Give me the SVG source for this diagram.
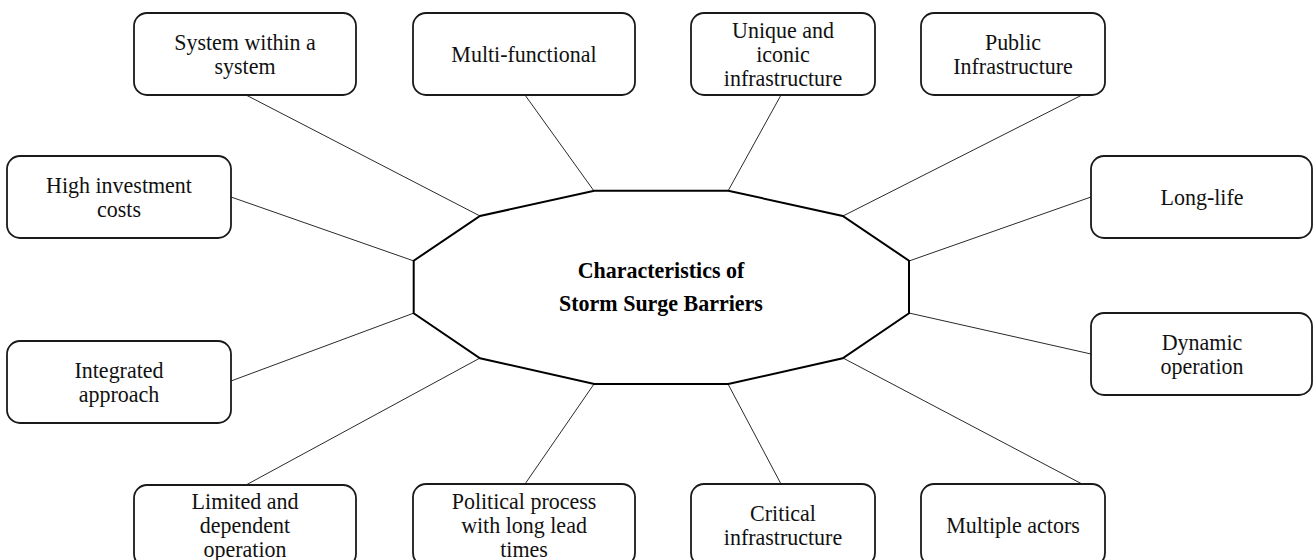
<svg xmlns="http://www.w3.org/2000/svg" width="1313" height="560" viewBox="0 0 1313 560">
  <style>
    .box { fill: #ffffff; stroke: #1a1a1a; stroke-width: 1.8; }
    .hub { fill: #ffffff; stroke: #000000; stroke-width: 2; stroke-linejoin: miter; }
    .link { stroke: #2a2a2a; stroke-width: 1; fill: none; }
    .lbl { font-family: "Liberation Serif", "Times New Roman", serif; font-size: 22px; fill: #111111; text-anchor: middle; }
    .title { font-family: "Liberation Serif", "Times New Roman", serif; font-size: 22px; font-weight: bold; fill: #000000; text-anchor: middle; }
  </style>
  <rect width="1313" height="560" fill="#ffffff"/>

  <!-- connectors between the hub and the surrounding boxes -->
  <g id="connectors">
    <line class="link" x1="246" y1="95" x2="480" y2="216"/>
    <line class="link" x1="525" y1="95" x2="594" y2="191"/>
    <line class="link" x1="781" y1="95" x2="728" y2="191"/>
    <line class="link" x1="1082" y1="95" x2="843" y2="216"/>
    <line class="link" x1="231" y1="197" x2="414" y2="261"/>
    <line class="link" x1="1091" y1="197" x2="909" y2="261"/>
    <line class="link" x1="231" y1="381" x2="414" y2="313"/>
    <line class="link" x1="1091" y1="354" x2="909" y2="313"/>
    <line class="link" x1="246" y1="485" x2="480" y2="358"/>
    <line class="link" x1="525" y1="484" x2="594" y2="384"/>
    <line class="link" x1="781" y1="484" x2="728" y2="384"/>
    <line class="link" x1="1082" y1="484" x2="843" y2="358"/>
  </g>

  <!-- central twelve-sided hub; type is slightly tall (scaled 1.08 vertically) -->
  <g id="hub">
    <polygon class="hub" points="594.3,190.7 728.3,190.7 842.7,216 909,260.7 909,313.3 842.7,358.3 728.3,384 594.3,384 480,358.3 413.7,313.3 413.7,260.7 480,216"/>
    <text class="title" transform="translate(661,277.5) scale(1,1.08)">Characteristics of</text>
    <text class="title" transform="translate(661,310.5) scale(1,1.08)">Storm Surge Barriers</text>
  </g>

  <!-- top row -->
  <g id="system-within-a-system">
    <rect class="box" x="134" y="13" width="222" height="82" rx="13"/>
    <text class="lbl" transform="translate(245,50) scale(1,1.08)">System within a</text>
    <text class="lbl" transform="translate(245,74) scale(1,1.08)">system</text>
  </g>
  <g id="multi-functional">
    <rect class="box" x="413" y="13" width="222" height="82" rx="13"/>
    <text class="lbl" transform="translate(524,62) scale(1,1.08)">Multi-functional</text>
  </g>
  <g id="unique-iconic">
    <rect class="box" x="691" y="13" width="184" height="82" rx="13"/>
    <text class="lbl" transform="translate(783,37.5) scale(1,1.08)">Unique and</text>
    <text class="lbl" transform="translate(783,61.5) scale(1,1.08)">iconic</text>
    <text class="lbl" transform="translate(783,85.5) scale(1,1.08)">infrastructure</text>
  </g>
  <g id="public-infrastructure">
    <rect class="box" x="921" y="13" width="184" height="82" rx="13"/>
    <text class="lbl" transform="translate(1013,50) scale(1,1.08)">Public</text>
    <text class="lbl" transform="translate(1013,74) scale(1,1.08)">Infrastructure</text>
  </g>

  <!-- side columns -->
  <g id="high-investment-costs">
    <rect class="box" x="7" y="156" width="224" height="82" rx="13"/>
    <text class="lbl" transform="translate(119,193) scale(1,1.08)">High investment</text>
    <text class="lbl" transform="translate(119,217) scale(1,1.08)">costs</text>
  </g>
  <g id="integrated-approach">
    <rect class="box" x="7" y="341" width="224" height="82" rx="13"/>
    <text class="lbl" transform="translate(119,378) scale(1,1.08)">Integrated</text>
    <text class="lbl" transform="translate(119,402) scale(1,1.08)">approach</text>
  </g>
  <g id="long-life">
    <rect class="box" x="1091" y="156" width="221" height="82" rx="13"/>
    <text class="lbl" transform="translate(1202,205) scale(1,1.08)">Long-life</text>
  </g>
  <g id="dynamic-operation">
    <rect class="box" x="1091" y="313" width="221" height="82" rx="13"/>
    <text class="lbl" transform="translate(1202,350) scale(1,1.08)">Dynamic</text>
    <text class="lbl" transform="translate(1202,374) scale(1,1.08)">operation</text>
  </g>

  <!-- bottom row -->
  <g id="limited-dependent-operation">
    <rect class="box" x="134" y="485" width="222" height="82" rx="13"/>
    <text class="lbl" transform="translate(245,508.5) scale(1,1.08)">Limited and</text>
    <text class="lbl" transform="translate(245,532.5) scale(1,1.08)">dependent</text>
    <text class="lbl" transform="translate(245,556.5) scale(1,1.08)">operation</text>
  </g>
  <g id="political-process">
    <rect class="box" x="413" y="484" width="222" height="82" rx="13"/>
    <text class="lbl" transform="translate(524,508.5) scale(1,1.08)">Political process</text>
    <text class="lbl" transform="translate(524,532.5) scale(1,1.08)">with long lead</text>
    <text class="lbl" transform="translate(524,556.5) scale(1,1.08)">times</text>
  </g>
  <g id="critical-infrastructure">
    <rect class="box" x="691" y="484" width="184" height="82" rx="13"/>
    <text class="lbl" transform="translate(783,520.5) scale(1,1.08)">Critical</text>
    <text class="lbl" transform="translate(783,544.5) scale(1,1.08)">infrastructure</text>
  </g>
  <g id="multiple-actors">
    <rect class="box" x="921" y="484" width="184" height="82" rx="13"/>
    <text class="lbl" transform="translate(1013,533) scale(1,1.08)">Multiple actors</text>
  </g>
</svg>
